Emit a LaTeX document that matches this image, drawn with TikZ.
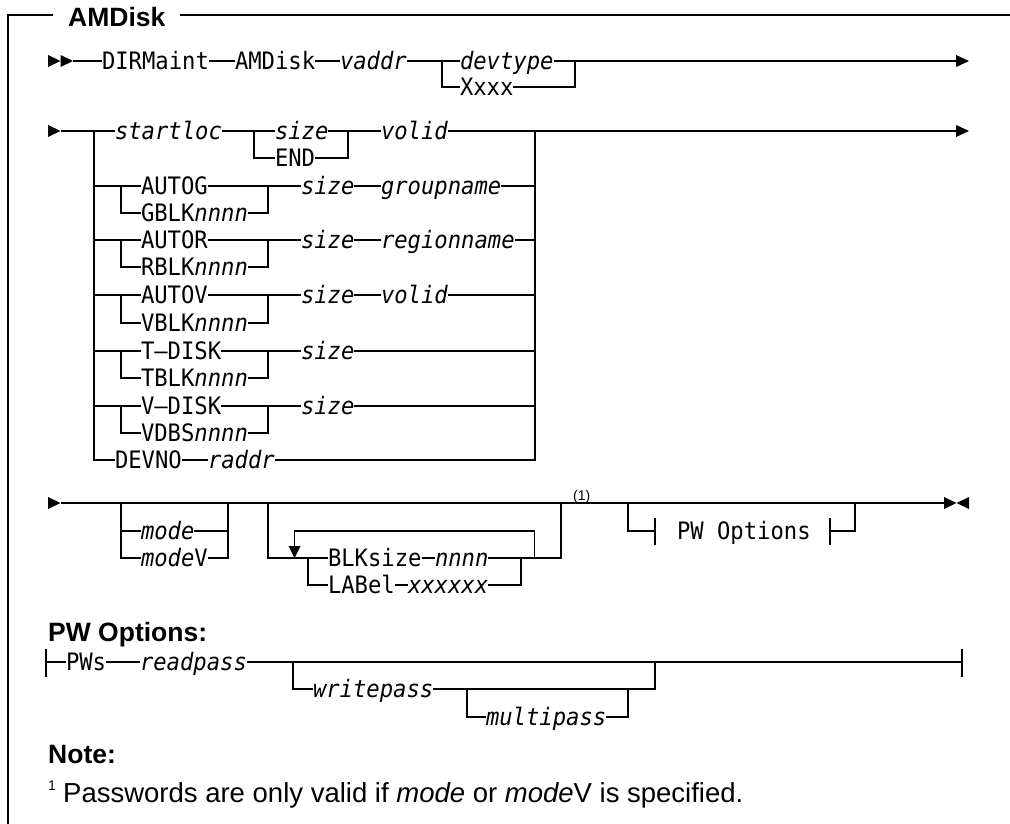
\documentclass[tikz,border=0pt]{standalone}
\usepackage{fontspec}
\setmainfont{Liberation Sans}
\newfontfamily\mono{DejaVu Sans Mono}[ItalicFont={DejaVu Sans Mono Oblique}, FakeStretch=0.925]
\begin{document}
\begin{tikzpicture}[x=1pt,y=-1pt,
  ln/.style={line width=1.5pt},
  kw/.style={inner sep=0pt, outer sep=0pt, anchor=west, text height=17.5pt, text depth=0pt, font=\mono\fontsize{24}{26}\selectfont},
  var/.style={kw, font=\mono\itshape\fontsize{24}{26}\selectfont},
  hd/.style={inner sep=0pt, anchor=base west, font=\bfseries\fontsize{26.5}{30}\selectfont},
  txt/.style={inner sep=0pt, anchor=base west, font=\fontsize{27.5}{30}\selectfont},
  sup/.style={inner sep=0pt, anchor=base west, font=\fontsize{14}{16}\selectfont}]
\useasboundingbox (0,0) rectangle (1010,824);
% frame
\node[hd] (title) at (68,27) {AMDisk};
\coordinate (fb) at (8,824);
\coordinate (ft) at (8,15);
\coordinate (ftl) at (53,15);
\coordinate (ftr) at (180,15);
\coordinate (fe) at (1010,15);
\draw[ln] (fb) -- (ft) -- (ftl);
\draw[ln] (ftr) -- (fe);
% ---------- row 1
\fill (48,55) -- (60.5,61) -- (48,67) -- cycle;
\fill (60.5,55) -- (73,61) -- (60.5,67) -- cycle;
\coordinate (r1a) at (73,61);
\node[kw] (dirm) at (102,61) {DIRMaint};
\node[kw] (amd) at (235,61) {AMDisk};
\node[var] (vaddr) at (340,61) {vaddr};
\coordinate (b1l) at (442,61);
\node[var] (devt) at (460,61) {devtype};
\node[kw] (xxxx) at (460,87) {Xxxx};
\coordinate (b1r) at (575,61);
\coordinate (e1) at (957,61);
\draw[ln] (r1a) -- (dirm.west) (dirm.east) -- (amd.west) (amd.east) -- (vaddr.west)
  (vaddr.east) -- (devt.west) (devt.east) -- (e1);
\draw[ln] (b1l) |- (xxxx.west);
\draw[ln] (xxxx.east) -| (b1r);
\fill (956,55) -- (969,61) -- (956,67) -- cycle;
% ---------- row 2
\fill (48,125) -- (60.5,131) -- (48,137) -- cycle;
\coordinate (r2a) at (60.5,131);
\node[var] (startloc) at (115,131) {startloc};
\coordinate (b2l) at (254,131);
\node[var] (size1) at (275,131) {size};
\node[kw] (endk) at (275,158) {END};
\coordinate (b2r) at (348,131);
\node[var] (volid1) at (381,131) {volid};
\coordinate (e2) at (957,131);
\draw[ln] (r2a) -- (startloc.west) (startloc.east) -- (size1.west) (size1.east) -- (volid1.west) (volid1.east) -- (e2);
\draw[ln] (b2l) |- (endk.west);
\draw[ln] (endk.east) -| (b2r);
\fill (956,125) -- (969,131) -- (956,137) -- cycle;
\coordinate (v2t) at (94,131);
\coordinate (v2r) at (535,131);
% grouped alternatives
\foreach \ya/\yb/\ka/\kb/\pn [count=\i] in {186/213/AUTOG/GBLK/groupname, 240/267/AUTOR/RBLK/regionname, 295/323/AUTOV/VBLK/volid, 351/378/T–DISK/TBLK/, 406/433/V–DISK/VDBS/} {
  \coordinate (gs\i) at (94,\ya);
  \coordinate (gl\i) at (121,\ya);
  \node[kw] (ka\i) at (141,\ya) {\ka};
  \node[kw] (kb\i) at (141,\yb) {\kb\textit{nnnn}};
  \coordinate (gr\i) at (268,\ya);
  \node[var] (gz\i) at (301,\ya) {size};
  \coordinate (ge\i) at (535,\ya);
  \draw[ln] (gs\i) -- (ka\i.west) (ka\i.east) -- (gz\i.west);
  \draw[ln] (gl\i) |- (kb\i.west);
  \draw[ln] (kb\i.east) -| (gr\i);
  \ifx\pn\empty
    \draw[ln] (gz\i.east) -- (ge\i);
  \else
    \node[var] (gp\i) at (381,\ya) {\pn};
    \draw[ln] (gz\i.east) -- (gp\i.west) (gp\i.east) -- (ge\i);
  \fi
}
\node[kw] (devno) at (115,460) {DEVNO};
\node[var] (raddr) at (208,460) {raddr};
\draw[ln] (v2t) |- (devno.west);
\draw[ln] (devno.east) -- (raddr.west);
\draw[ln] (raddr.east) -| (v2r);
% ---------- row 3
\fill (48,497) -- (60.5,503) -- (48,509) -- cycle;
\coordinate (r3a) at (60.5,503);
\coordinate (e3) at (944,503);
\draw[ln] (r3a) -- (e3);
\fill (944,497) -- (956.5,503) -- (944,509) -- cycle;
\fill (969,497) -- (956.5,503) -- (969,509) -- cycle;
% mode
\coordinate (m3l) at (121,503);
\coordinate (m3r) at (228,503);
\node[var] (mode) at (141,531) {mode};
\node[kw] (modev) at (141,558) {\textit{mode}V};
\draw[ln] (m3l) |- (modev.west);
\draw[ln] (m3l |- mode) -- (mode.west);
\draw[ln] (modev.east) -| (m3r);
\draw[ln] (mode.east) -- (m3r |- mode);
% BLK group
\coordinate (k3l) at (268,503);
\coordinate (k3r) at (561,503);
\coordinate (rpl) at (294.6,531);
\coordinate (rpr) at (534.6,531);
\coordinate (rpa) at (294.6,546);
\node[kw] (blk) at (328,558) {BLKsize};
\node[var] (nnnn) at (435,558) {nnnn};
\node[kw] (labl) at (328,585) {LABel};
\node[var] (xx) at (408,585) {xxxxxx};
\coordinate (il) at (308,558);
\coordinate (ir) at (521,558);
\draw[ln] (k3l) |- (blk.west);
\draw[ln] (blk.east) -- (nnnn.west);
\draw[ln] (nnnn.east) -| (k3r);
\draw[ln] (il) |- (labl.west);
\draw[ln] (labl.east) -- (xx.west);
\draw[ln] (xx.east) -| (ir);
\draw[ln] (rpa) -- (rpl) -- (rpr) -- (rpr |- blk);
\fill (288.6,546) -- (300.6,546) -- (294.6,558) -- cycle;
\node[sup] (fn1) at (573,500) {(1)};
% PW Options reference
\coordinate (p3l) at (628,503);
\coordinate (p3r) at (855,503);
\coordinate (pb1) at (655,531);
\coordinate (pb2) at (830,531);
\node[kw] (pwref) at (677,531) {PW Options};
\draw[ln] (p3l) |- (pb1);
\draw[ln] (pb2) -| (p3r);
\draw[ln] (655,518) -- (655,545);
\draw[ln] (830,518) -- (830,545);
% ---------- PW Options fragment
\node[hd] (pwh) at (48,641) {PW Options:};
\coordinate (q0) at (46,662);
\draw[ln] (46,649) -- (46,677);
\node[kw] (pws) at (66,662) {PWs};
\node[var] (readp) at (140,662) {readpass};
\coordinate (q1) at (293,662);
\node[var] (writep) at (313,689) {writepass};
\coordinate (q2) at (467,689);
\node[var] (multip) at (486,717) {multipass};
\coordinate (q3) at (628,689);
\coordinate (q4) at (655,662);
\coordinate (qe) at (962,662);
\draw[ln] (q0) -- (pws.west) (pws.east) -- (readp.west) (readp.east) -- (qe);
\draw[ln] (q1) |- (writep.west);
\draw[ln] (writep.east) -| (q4);
\draw[ln] (q2) |- (multip.west);
\draw[ln] (multip.east) -| (q3);
\draw[ln] (962,649) -- (962,677);
% ---------- note
\node[hd] (noteh) at (48,763) {Note:};
\node[sup] (fnm) at (48,790) {1};
\node[txt] (note) at (63,802) {Passwords are only valid if \textit{mode} or \textit{mode}V is specified.};
\end{tikzpicture}
\end{document}
